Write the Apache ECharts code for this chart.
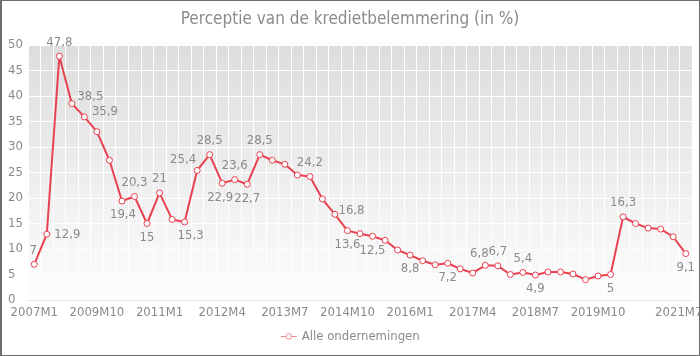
<!DOCTYPE html>
<html>
<head>
<meta charset="utf-8">
<script src="https://cdn.jsdelivr.net/npm/echarts@6/dist/echarts.min.js"></script>
<style>
html,body{margin:0;padding:0;background:#fff;}
#wrap{width:700px;height:356px;box-sizing:border-box;border:1px solid #6e6e6e;border-left-width:2px;position:relative;overflow:hidden;}
#chart{position:absolute;left:-2px;top:-1px;width:700px;height:356px;}
</style>
</head>
<body>
<div id="wrap"><div id="chart"></div></div>
<script>
const chartTitle = 'Perceptie van de kredietbelemmering (in %)';
const seriesName = 'Alle ondernemingen';
const categories = (function(){
  const c = ['2007M1','2008M10'];
  const months = ['M1','M4','M7','M10'];
  for (let y = 2009; y <= 2021; y++) {
    for (const m of months) {
      if (y === 2021 && m === 'M10') break;
      c.push(y + m);
    }
  }
  return c;
})();
const values = [
  7, 12.9, 47.8, 38.5, 35.9, 33, 27.4, 19.4, 20.3, 15,
  21, 15.8, 15.3, 25.4, 28.5, 22.9, 23.6, 22.7, 28.5, 27.4,
  26.6, 24.5, 24.2, 19.8, 16.8, 13.6, 13.0, 12.5, 11.7, 9.8,
  8.8, 7.7, 6.9, 7.2, 6.1, 5.3, 6.8, 6.7, 5.0, 5.4,
  4.9, 5.5, 5.5, 5.1, 4.0, 4.7, 5, 16.3, 15.0, 14.1,
  13.9, 12.4, 9.1
];
const shownLabelCategories = ['2007M1','2009M10','2011M1','2012M4','2013M7','2014M10','2016M1','2017M4','2018M7','2019M10','2021M7'];

// label placement (style config, keyed by index)
const labelPlacement = {
  0:{p:'top',o:[-1,0]}, 1:{p:'right',o:[0,0]}, 2:{p:'top',o:[0,0]}, 3:{p:'right',o:[-2,-7]}, 4:{p:'right',o:[0,-5]},
  7:{p:'bottom',o:[1,0]}, 8:{p:'top',o:[0,0]}, 9:{p:'bottom',o:[0,0]}, 10:{p:'top',o:[0,0]},
  12:{p:'bottom',o:[6,0]}, 13:{p:'top',o:[-14,3]}, 14:{p:'top',o:[0,0]}, 15:{p:'bottom',o:[-2,0]},
  16:{p:'top',o:[0,0]}, 17:{p:'bottom',o:[0,0]}, 18:{p:'top',o:[0,0]}, 22:{p:'top',o:[0,0]},
  24:{p:'right',o:[-4,-4]}, 25:{p:'bottom',o:[0,0]}, 27:{p:'bottom',o:[0,0]}, 30:{p:'bottom',o:[0,0]},
  33:{p:'bottom',o:[0,0]}, 36:{p:'top',o:[-6,2]}, 37:{p:'top',o:[0,0]}, 39:{p:'top',o:[0,0]},
  40:{p:'bottom',o:[0,0]}, 46:{p:'bottom',o:[0,0]}, 47:{p:'top',o:[0,0]}, 52:{p:'bottom',o:[0,0]}
};

const FONT = "'DejaVu Sans Condensed','Liberation Sans',sans-serif";
const GREY = '#8a8a8a';
const RED = '#e8414f';

const seriesData = values.map((v, i) => {
  const lp = labelPlacement[i];
  const d = { value: v };
  if (lp) {
    d.label = { show: true, position: lp.p, offset: lp.o, distance: 4 };
  } else {
    d.label = { show: false };
  }
  return d;
});

const lastCat = categories[categories.length - 1];

const chart = echarts.init(document.getElementById('chart'), null, {renderer:'canvas'});
chart.setOption({
  animation: false,
  backgroundColor: 'transparent',
  textStyle: { fontFamily: FONT },
  title: {
    text: chartTitle, left: 'center', top: 6,
    textStyle: { fontFamily: FONT, fontSize: 17, fontWeight: 'normal', color: GREY }
  },
  legend: {
    bottom: 8, left: 'center',
    itemWidth: 16, itemHeight: 7, itemGap: 10,
    textStyle: { fontFamily: FONT, fontSize: 13, color: GREY },
    itemStyle: { color: '#ffffff', borderColor: '#ee8a92', borderWidth: 1 },
    lineStyle: { color: '#ee8a92', width: 1 },
    data: [{ name: seriesName }]
  },
  grid: {
    left: 28, right: 8, top: 45, bottom: 56,
    outerBoundsMode: 'none',
    show: true, borderWidth: 0,
    backgroundColor: new echarts.graphic.LinearGradient(0, 0, 0, 1, [
      { offset: 0, color: '#dddddd' },
      { offset: 1, color: '#fdfdfd' }
    ])
  },
  xAxis: {
    type: 'category', data: categories, boundaryGap: true,
    axisLine: { show: true, lineStyle: { color: '#e6e6e6', width: 1 } },
    axisTick: { show: false },
    splitLine: { show: true, interval: 0, lineStyle: { color: '#ffffff', width: 1 } },
    axisLabel: {
      interval: (idx, val) => shownLabelCategories.indexOf(val) >= 0,
      fontFamily: FONT, fontSize: 13, color: GREY, margin: 6,
      formatter: v => v === lastCat ? '{last|' + v + '}' : v,
      rich: { last: { fontFamily: FONT, fontSize: 13, color: GREY, padding: [0, 14, 0, 0] } }
    }
  },
  yAxis: {
    type: 'value', min: 0, max: 50, interval: 5,
    axisLine: { show: false }, axisTick: { show: false },
    splitLine: { show: true, lineStyle: { color: '#ffffff', width: 1 } },
    axisLabel: { fontFamily: FONT, fontSize: 13, color: GREY, align: 'left', margin: 20 }
  },
  series: [{
    name: seriesName, type: 'line', data: seriesData,
    symbol: 'circle', symbolSize: 6, showAllSymbol: true,
    lineStyle: { color: RED, width: 2 },
    itemStyle: { color: '#ffffff', borderColor: RED, borderWidth: 1 },
    label: {
      color: GREY, fontFamily: FONT, fontSize: 13,
      formatter: p => String(p.value).replace('.', ',')
    },
    emphasis: { disabled: true }
  }]
});
</script>
</body>
</html>
